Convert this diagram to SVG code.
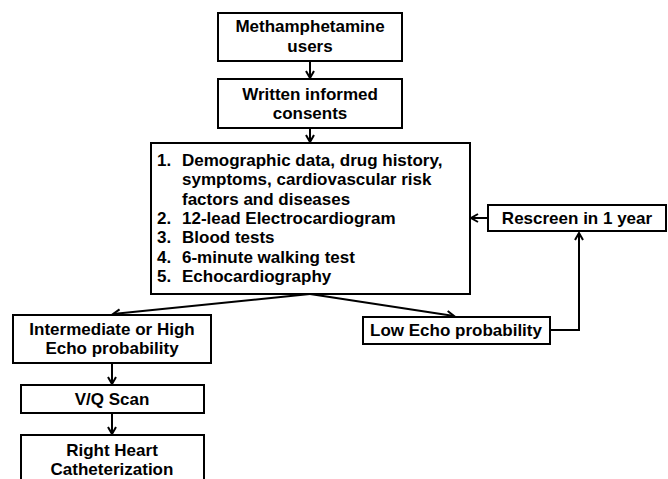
<svg xmlns="http://www.w3.org/2000/svg" width="668" height="479" viewBox="0 0 668 479">
<style>
.box{fill:#fff;stroke:#000;stroke-width:2}
.t{font-family:"Liberation Sans",Arial,sans-serif;font-weight:bold;font-size:17px;fill:#000}
.c{text-anchor:middle}
.con{fill:none;stroke:#000;stroke-width:2}
</style>
<defs>
<marker id="ah" markerWidth="10" markerHeight="10" refX="8" refY="5" orient="auto" markerUnits="userSpaceOnUse">
<path d="M1,1 L8,5 L1,9" fill="none" stroke="#000" stroke-width="2"/>
</marker>
</defs>
<rect width="668" height="479" fill="#fff"/>
<g id="connectors">
<line class="con" x1="310" y1="61" x2="310" y2="78" marker-end="url(#ah)"/>
<line class="con" x1="310" y1="128" x2="310" y2="142" marker-end="url(#ah)"/>
<line class="con" x1="310" y1="294" x2="113" y2="314" marker-end="url(#ah)"/>
<line class="con" x1="310" y1="294" x2="454" y2="316" marker-end="url(#ah)"/>
<polyline class="con" points="550,330 579,330 579,233" marker-end="url(#ah)"/>
<line class="con" x1="488" y1="218" x2="471" y2="218" marker-end="url(#ah)"/>
<line class="con" x1="112" y1="363" x2="112" y2="384" marker-end="url(#ah)"/>
<line class="con" x1="112" y1="413" x2="112" y2="434" marker-end="url(#ah)"/>
</g>
<g id="n1">
<rect class="box" x="218" y="13" width="184" height="48"/>
<text class="t c" x="310" y="32">Methamphetamine</text>
<text class="t c" x="310" y="52">users</text>
</g>
<g id="n2">
<rect class="box" x="218" y="79" width="184" height="49"/>
<text class="t c" x="310" y="100">Written informed</text>
<text class="t c" x="310" y="119">consents</text>
</g>
<g id="n3">
<rect class="box" x="151" y="143" width="319" height="151"/>
<text class="t" x="157" y="166">1.</text>
<text class="t" x="182" y="166">Demographic data, drug history,</text>
<text class="t" x="182" y="185">symptoms, cardiovascular risk</text>
<text class="t" x="182" y="205">factors and diseases</text>
<text class="t" x="157" y="224">2.</text>
<text class="t" x="182" y="224">12-lead Electrocardiogram</text>
<text class="t" x="157" y="243">3.</text>
<text class="t" x="182" y="243">Blood tests</text>
<text class="t" x="157" y="263">4.</text>
<text class="t" x="182" y="263">6-minute walking test</text>
<text class="t" x="157" y="282">5.</text>
<text class="t" x="182" y="282">Echocardiography</text>
</g>
<g id="n4">
<rect class="box" x="488" y="205" width="178" height="26"/>
<text class="t c" x="577" y="224">Rescreen in 1 year</text>
</g>
<g id="n5">
<rect class="box" x="13" y="315" width="198" height="48"/>
<text class="t c" x="112" y="335">Intermediate or High</text>
<text class="t c" x="112" y="354">Echo probability</text>
</g>
<g id="n6">
<rect class="box" x="363" y="317" width="187" height="27"/>
<text class="t c" x="456" y="336">Low Echo probability</text>
</g>
<g id="n7">
<rect class="box" x="21" y="385" width="183" height="28"/>
<text class="t c" x="112" y="405">V/Q Scan</text>
</g>
<g id="n8">
<rect class="box" x="21" y="435" width="183" height="60"/>
<text class="t c" x="112" y="456">Right Heart</text>
<text class="t c" x="112" y="475">Catheterization</text>
</g>
</svg>
